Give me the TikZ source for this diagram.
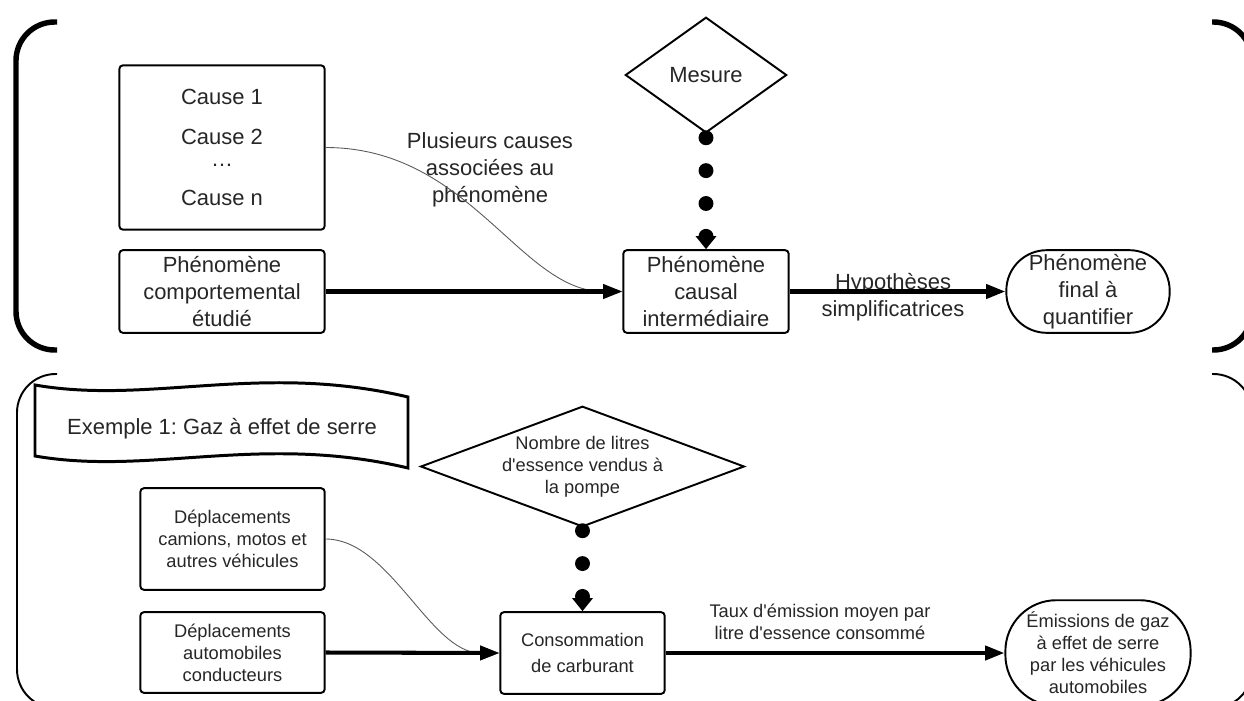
\documentclass[tikz,border=0pt]{standalone}
\usepackage{fontspec}
\setmainfont{Liberation Sans}[Ligatures=TeXOff]
\usetikzlibrary{arrows.meta,shapes.geometric}
\newcommand\bigfont{\fontsize{12.5pt}{15.3pt}\selectfont}
\newcommand\smallfont{\fontsize{10.4pt}{12.5pt}\selectfont}
\def\pxu{0.5669pt}
\frenchspacing
\tikzset{
  base/.style={draw=black, line width=1.1pt, inner sep=0pt, align=center, text=black!85},
  box/.style={base, rectangle, rounded corners=2pt},
  pill/.style={base, rectangle},
  diam/.style={base, diamond},
  lbl/.style={align=center, text=black!85, inner sep=0pt},
  flow/.style={line width=2.3pt, -{Triangle[length=11pt,width=8pt]}},
  link/.style={line width=0.5pt, draw=black!65, -{Triangle[length=11pt,width=8pt]}},
  dotflow/.style={line width=8.5pt, line cap=round, dash pattern=on 0pt off 18.7pt,
    -{Triangle[length=7.5pt,width=11.5pt]}},
  bigbrace/.style={line width=3.1pt, rounded corners=22pt},
  thinbrace/.style={line width=1.1pt, rounded corners=22pt},
}
\begin{document}
\begin{tikzpicture}[x=0.02cm, y=-0.02cm]
\useasboundingbox (0,0) rectangle (1244,700);
\clip (0,0) rectangle (1244,700);

% brackets framing the two parts
\draw[bigbrace] (57,22) -- (16,22) -- (16,350) -- (57,350);
\draw[bigbrace] (1212,22) -- (1252,22) -- (1252,350) -- (1212,350);
\draw[thinbrace] (57,374) -- (17,374) -- (17,708) -- (57,708);
\draw[thinbrace] (1212,374) -- (1252,374) -- (1252,708) -- (1212,708);

% general scheme
\node[box, minimum width=206*\pxu, minimum height=165*\pxu, font=\bigfont] (causes) at (222,147.5)
  {Cause 1\\[7.4pt] Cause 2\\[-2.8pt] …\\[7.4pt] Cause n};
\node[box, minimum width=206*\pxu, minimum height=83*\pxu, font=\bigfont] (comp) at (222,291.5)
  {Phénomène\\comportemental\\étudié};
\node[box, minimum width=166*\pxu, minimum height=83*\pxu, font=\bigfont] (pci) at (706,291.5)
  {Phénomène\\causal\\intermédiaire};
\node[pill, rounded corners=23pt, minimum width=164*\pxu, minimum height=83*\pxu, font=\bigfont] (final) at (1088,291.5)
  {Phénomène\\final à\\quantifier};
\node[diam, minimum width=162*\pxu, minimum height=116*\pxu] (mesure) at (706,75) {};
\node[lbl, font=\bigfont] (mesuretxt) at (mesure.center) {Mesure};

\node[lbl, font=\bigfont] (plus) at (490,170) {Plusieurs causes\\associées au\\phénomène};
\node[lbl, font=\bigfont] (hyp) at (893,297) {Hypothèses\\simplificatrices};

\draw[link] (causes.east) .. controls (470,147.5) and (520,291.5) .. (pci.west);
\draw[flow] (comp.east) -- (pci.west);
\draw[flow] (pci.east) -- (final.west);
\draw[dotflow, dash phase=16.4pt] (mesure.south) -- (pci.north);

% example: greenhouse gases
\draw[line width=1.7pt, line join=miter]
  (35,385) .. controls (150,405) and (260,362) .. (408,397) -- (408,468)
  .. controls (260,433) and (150,476) .. (35,456) -- cycle;
\node[lbl, font=\bigfont] (ex) at (222,429) {Exemple 1: Gaz à effet de serre};

\node[diam, minimum width=325*\pxu, minimum height=121*\pxu] (nombre) at (582.5,466.5) {};
\node[lbl, font=\smallfont] (nombretxt) at (nombre.center) {Nombre de litres\\d'essence vendus à\\la pompe};
\node[box, minimum width=185*\pxu, minimum height=102*\pxu, font=\smallfont] (camions) at (232.5,539)
  {Déplacements\\camions, motos et\\autres véhicules};
\node[box, minimum width=185*\pxu, minimum height=81*\pxu, font=\smallfont] (autos) at (232.5,652.5)
  {Déplacements\\automobiles\\conducteurs};
\node[box, minimum width=165*\pxu, minimum height=82*\pxu,
  font=\fontsize{10.4pt}{14.5pt}\selectfont] (conso) at (582.5,653)
  {Consommation\\de carburant};
\node[pill, rounded corners=29pt, minimum width=186*\pxu, minimum height=106*\pxu, font=\smallfont] (emis) at (1098,653)
  {Émissions de gaz\\à effet de serre\\par les véhicules\\automobiles};
\node[lbl, font=\smallfont] (taux) at (820,622) {Taux d'émission moyen par\\litre d'essence consommé};

\draw[link] (camions.east) .. controls (390,539) and (430,653) .. (conso.west);
\draw[flow] (autos.east) -- (conso.west);
\draw[flow] (conso.east) -- (emis.west);
\draw[dotflow, dash phase=17pt] (nombre.south) -- (conso.north);
\end{tikzpicture}
\end{document}
